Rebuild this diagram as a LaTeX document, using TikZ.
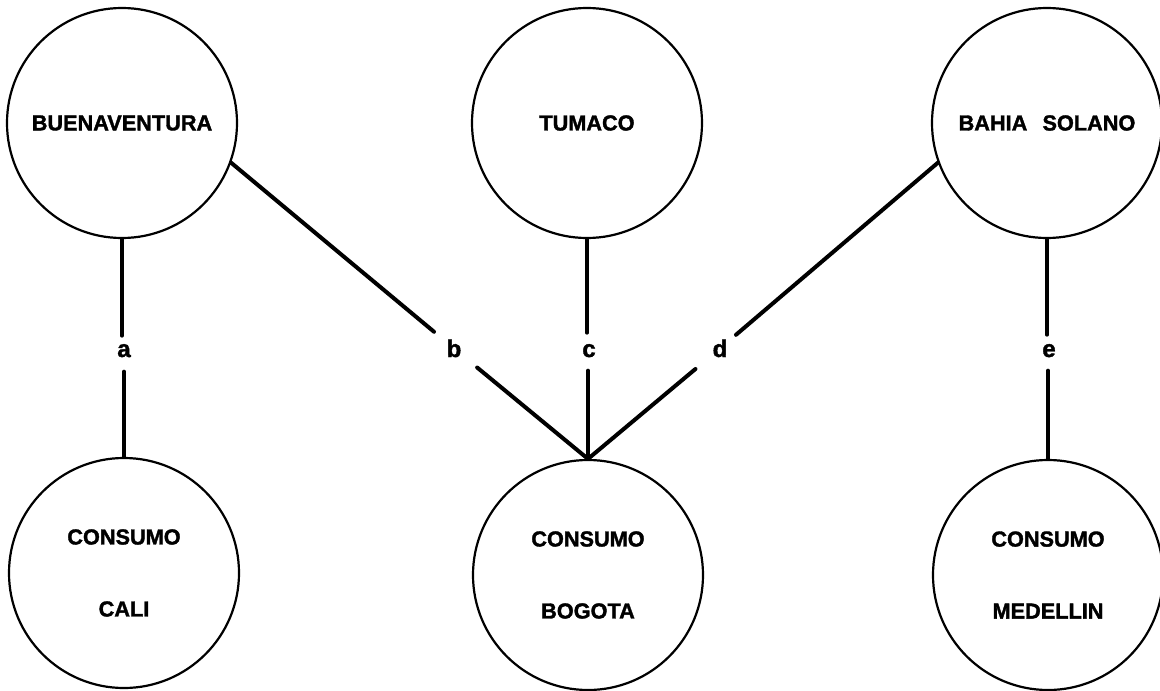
\documentclass[tikz,border=0pt]{standalone}
\usepackage{fontspec}
\setmainfont{Liberation Sans}
\newfontfamily\heavy[FakeBold=1.6]{Liberation Sans Bold}
\begin{document}
\begin{tikzpicture}[x=1pt,y=-1pt,
  place/.style={circle, draw, line width=2.2pt, minimum size=230pt, inner sep=0pt,
    align=center, font=\heavy\fontsize{21.7}{26}\selectfont},
  twoline/.style={font=\heavy\fontsize{21.7}{72}\selectfont},
  conn/.style={line width=4pt, line cap=round},
  lbl/.style={inner sep=0pt, anchor=base, font=\heavy\fontsize{24}{28}\selectfont}]
\useasboundingbox (0,0) rectangle (1160,691);
\fill[white] (0,0) rectangle (1160,691);
% places
\node[place] (buen) at (122,123) {BUENAVENTURA};
\node[place] (tum) at (587,123) {TUMACO};
\node[place] (bah) at (1047,123) {BAHIA\hspace{0.7em}SOLANO};
\node[place,twoline] (cali) at (124,573) {CONSUMO\\CALI};
\node[place,twoline] (bog) at (588,575) {CONSUMO\\BOGOTA};
\node[place,twoline] (med) at (1048,575) {CONSUMO\\MEDELLIN};
% labels
\node[lbl] (la) at (124,357) {a};
\node[lbl] (lb) at (454,357) {b};
\node[lbl] (lc) at (589,357) {c};
\node[lbl] (ld) at (720,357) {d};
\node[lbl] (le) at (1049,357) {e};
% connectors
\draw[conn, shorten >=15pt] (buen.south) -- (buen.south |- la.center);
\draw[conn, shorten <=21pt] (cali.north |- la.center) -- (cali.north);
\draw[conn, shorten >=26pt] (buen.-20) -- (lb.center);
\draw[conn, shorten <=30pt] (lb.center) -- (bog.north);
\draw[conn, shorten >=18pt] (tum.south) -- (tum.south |- lc.center);
\draw[conn, shorten <=20pt] (bog.north |- lc.center) -- (bog.north);
\draw[conn, shorten >=21pt] (bah.200) -- (ld.center);
\draw[conn, shorten <=32pt] (ld.center) -- (bog.north);
\draw[conn, shorten >=16pt] (bah.south) -- (bah.south |- le.center);
\draw[conn, shorten <=20pt] (med.north |- le.center) -- (med.north);
\end{tikzpicture}
\end{document}
